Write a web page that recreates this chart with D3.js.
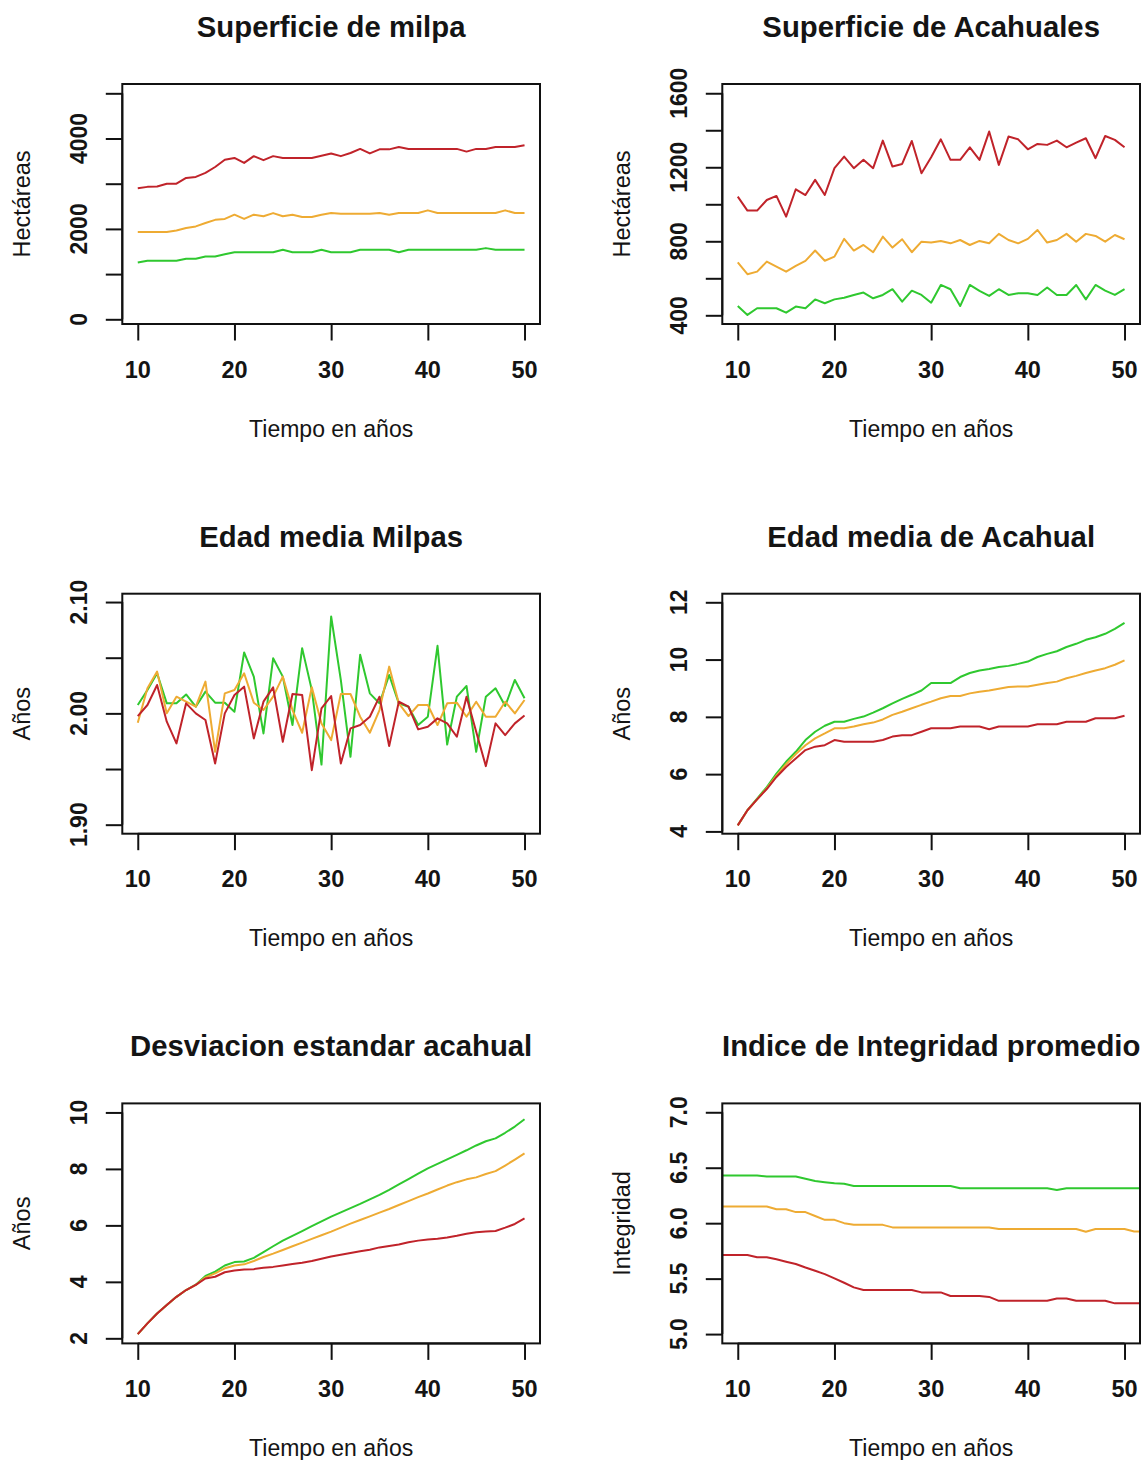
<!DOCTYPE html>
<html>
<head>
<meta charset="utf-8">
<script src="https://cdn.jsdelivr.net/npm/d3@7"></script>
<style>
  body { margin: 0; background: #fff; }
  svg { display: block; }
  text { font-family: "Liberation Sans", Arial, Helvetica, sans-serif; fill: #141414; }
</style>
</head>
<body>
<svg id="chart" width="1143" height="1460"></svg>
<script>
// ---- data: simulated landscape indicators, years 10..50 ----
const years = [10,11,12,13,14,15,16,17,18,19,20,21,22,23,24,25,26,27,28,29,30,
               31,32,33,34,35,36,37,38,39,40,41,42,43,44,45,46,47,48,49,50];
// integrity index series run a little beyond the visible window (clipped)
const yearsWide = [8,9].concat(years, [51,52]);

const xTicks = [10,20,30,40,50];

// Superficie de milpa (ha)
const milpaRed = [2900,2930,2940,3000,3000,3128,3150,3240,3370,3530,3570,3460,3610,3520,3610,3570,3570,3570,3570,3620,3670,
                  3610,3680,3770,3670,3760,3760,3810,3770,3770,3770,3770,3770,3770,3710,3770,3770,3810,3810,3810,3850];
const milpaOrange = [1930,1930,1930,1930,1965,2020,2055,2130,2200,2220,2315,2220,2315,2280,2350,2280,2315,2265,2265,2315,2350,
                     2335,2335,2335,2335,2350,2315,2350,2350,2350,2410,2350,2350,2350,2350,2350,2350,2350,2410,2350,2350];
const milpaGreen = [1255,1295,1295,1295,1295,1340,1340,1390,1390,1440,1485,1485,1485,1485,1485,1540,1485,1485,1485,1540,1485,
                    1485,1485,1540,1540,1540,1540,1485,1540,1540,1540,1540,1540,1540,1540,1540,1575,1540,1540,1540,1540];

// Superficie de Acahuales (ha)
const acahRed = [1041,966,966,1023,1045,933,1081,1050,1132,1050,1195,1258,1195,1240,1195,1344,1204,1218,1342,1168,1254,
                 1351,1240,1240,1308,1240,1393,1213,1366,1351,1297,1326,1321,1344,1308,1333,1357,1249,1369,1348,1308];
const acahOrange = [686,622,636,690,663,636,667,694,750,695,717,813,750,780,741,825,766,811,741,798,793,
                    802,789,807,780,802,789,840,807,789,813,861,793,807,840,798,840,829,798,834,811];
const acahGreen = [450,402,438,438,438,414,447,438,486,465,486,495,510,523,492,510,541,474,533,510,468,
                   564,541,450,564,532,505,541,510,519,519,510,550,510,510,564,486,564,533,510,541];

// Edad media Milpas (años)
const edadMilRed = [1.9976,2.0075,2.0255,1.9925,1.973,2.009,2.000,1.994,1.955,2.000,2.0165,2.024,1.9775,2.0105,2.0234,1.9745,2.0174,2.0165,1.949,2.0045,2.0156,
                    1.955,1.9865,1.9895,1.997,2.015,1.9706,2.0105,2.006,1.9856,1.988,1.9955,1.991,1.979,2.015,1.9835,1.9526,1.991,1.9805,1.991,1.998];
const edadMilOrange = [1.9916,2.0225,2.0375,2.000,2.015,2.0105,2.006,2.0285,1.9655,2.018,2.021,2.036,2.0096,2.003,2.015,2.033,2.003,1.9826,2.0234,1.991,1.976,
                       2.0174,2.0174,1.997,1.9826,2.003,2.042,2.009,1.9976,2.0075,2.0075,1.9895,2.009,2.0096,1.997,2.0105,1.997,1.997,2.0105,2.000,2.012];
const edadMilGreen = [2.0075,2.021,2.036,2.009,2.009,2.017,2.006,2.0195,2.0096,2.0096,2.0015,2.0547,2.033,1.982,2.0495,2.033,1.9895,2.0586,2.021,1.954,2.087,
                      2.030,1.961,2.0526,2.018,2.009,2.0345,2.009,2.006,1.9895,1.997,2.0607,1.972,2.015,2.0246,1.9655,2.015,2.0225,2.0066,2.030,2.0135];

// Edad media de Acahual (años)
const edadAcRed = [4.21,4.74,5.12,5.48,5.90,6.25,6.55,6.84,6.96,7.01,7.19,7.13,7.13,7.13,7.13,7.19,7.31,7.36,7.36,7.48,7.60,
                   7.60,7.60,7.66,7.66,7.66,7.57,7.66,7.66,7.66,7.66,7.74,7.74,7.74,7.83,7.83,7.83,7.95,7.95,7.95,8.04];
const edadAcOrange = [4.21,4.74,5.12,5.50,5.95,6.35,6.70,7.01,7.25,7.42,7.60,7.60,7.66,7.74,7.80,7.91,8.07,8.18,8.30,8.42,8.53,
                      8.65,8.73,8.73,8.82,8.88,8.92,8.98,9.04,9.06,9.06,9.12,9.18,9.23,9.35,9.43,9.53,9.62,9.70,9.82,9.97];
const edadAcGreen = [4.21,4.74,5.14,5.55,6.02,6.43,6.78,7.19,7.48,7.69,7.83,7.83,7.93,8.01,8.15,8.30,8.47,8.63,8.77,8.92,9.18,
                     9.18,9.18,9.39,9.53,9.62,9.67,9.74,9.78,9.85,9.93,10.09,10.20,10.29,10.44,10.55,10.69,10.78,10.90,11.07,11.28];

// Desviacion estandar acahual (años)
const desvRed = [2.15,2.53,2.88,3.18,3.47,3.71,3.89,4.12,4.18,4.34,4.40,4.44,4.45,4.50,4.53,4.58,4.63,4.68,4.74,4.82,4.90,
                 4.96,5.02,5.08,5.14,5.22,5.27,5.32,5.40,5.46,5.50,5.53,5.57,5.63,5.70,5.76,5.78,5.80,5.92,6.05,6.25];
const desvOrange = [2.15,2.53,2.88,3.18,3.47,3.71,3.89,4.16,4.30,4.48,4.58,4.62,4.74,4.88,5.00,5.13,5.26,5.39,5.52,5.65,5.78,
                    5.92,6.06,6.19,6.32,6.45,6.58,6.72,6.86,7.00,7.13,7.27,7.41,7.53,7.63,7.70,7.82,7.92,8.12,8.33,8.55];
const desvGreen = [2.15,2.53,2.88,3.18,3.47,3.71,3.90,4.21,4.36,4.58,4.70,4.72,4.85,5.05,5.26,5.46,5.63,5.80,5.97,6.14,6.31,
                   6.46,6.61,6.76,6.92,7.08,7.26,7.45,7.64,7.83,8.02,8.18,8.34,8.50,8.66,8.83,8.98,9.08,9.28,9.50,9.76];

// Indice de Integridad promedio (years 8..52)
const integRed = [5.713,5.713,5.713,5.713,5.692,5.692,5.674,5.653,5.632,5.600,5.571,5.541,5.502,5.463,5.421,
                  5.397,5.397,5.397,5.397,5.397,5.397,5.376,5.376,5.376,5.343,5.343,5.343,5.343,5.335,
                  5.300,5.300,5.300,5.300,5.300,5.300,5.320,5.320,5.300,5.300,5.300,5.300,5.277,5.277,5.277,5.277];
const integOrange = [6.150,6.150,6.150,6.150,6.150,6.150,6.125,6.125,6.100,6.100,6.065,6.030,6.030,6.000,
                     5.985,5.985,5.985,5.985,5.962,5.962,5.962,5.962,5.962,5.962,5.962,5.962,5.962,5.962,5.962,
                     5.947,5.947,5.947,5.947,5.947,5.947,5.947,5.947,5.947,5.923,5.947,5.947,5.947,5.947,5.925,5.925];
const integGreen = [6.430,6.430,6.430,6.430,6.430,6.420,6.420,6.420,6.420,6.400,6.380,6.370,6.360,6.355,
                    6.335,6.335,6.335,6.335,6.335,6.335,6.335,6.335,6.335,6.335,6.335,
                    6.315,6.315,6.315,6.315,6.315,6.315,6.315,6.315,6.315,6.315,6.300,
                    6.315,6.315,6.315,6.315,6.315,6.315,6.315,6.315,6.315];

// ---- panel definitions ----
const colors = { green: "#2fc82f", orange: "#eeab33", red: "#c0232a" };

const panels = [
  { title: "Superficie de milpa", ylab: "Hectáreas", x: years,
    yDomain: [-104, 5206], yTicks: [0,1000,2000,3000,4000,5000], yLabels: [0,2000,4000], fmt: d3.format("d"),
    series: [[milpaGreen, "green"], [milpaOrange, "orange"], [milpaRed, "red"]] },
  { title: "Superficie de Acahuales", ylab: "Hectáreas", x: years,
    yDomain: [353, 1650], yTicks: [400,600,800,1000,1200,1400,1600], yLabels: [400,800,1200,1600], fmt: d3.format("d"),
    series: [[acahGreen, "green"], [acahOrange, "orange"], [acahRed, "red"]] },
  { title: "Edad media Milpas", ylab: "Años", x: years,
    yDomain: [1.8919, 2.1075], yTicks: [1.90,1.95,2.00,2.05,2.10], yLabels: [1.90,2.00,2.10], fmt: d3.format(".2f"),
    series: [[edadMilGreen, "green"], [edadMilOrange, "orange"], [edadMilRed, "red"]] },
  { title: "Edad media de Acahual", ylab: "Años", x: years,
    yDomain: [3.92, 12.30], yTicks: [4,6,8,10,12], yLabels: [4,6,8,10,12], fmt: d3.format("d"),
    series: [[edadAcGreen, "green"], [edadAcOrange, "orange"], [edadAcRed, "red"]] },
  { title: "Desviacion estandar acahual", ylab: "Años", x: years,
    yDomain: [1.82, 10.32], yTicks: [2,4,6,8,10], yLabels: [2,4,6,8,10], fmt: d3.format("d"),
    series: [[desvGreen, "green"], [desvOrange, "orange"], [desvRed, "red"]] },
  { title: "Indice de Integridad promedio", ylab: "Integridad", x: yearsWide,
    yDomain: [4.916, 7.08], yTicks: [5.0,5.5,6.0,6.5,7.0], yLabels: [5.0,5.5,6.0,6.5,7.0], fmt: d3.format(".1f"),
    series: [[integGreen, "green"], [integOrange, "orange"], [integRed, "red"]] }
];

// ---- layout ----
const svg = d3.select("#chart");
const colOffset = [0, 600];
const boxLeft = 122.3, boxW = 417.7, boxH = 240;
const rowTop = r => 84 + r * 509.7;
const tickLen = 16.5;

panels.forEach((p, i) => {
  const col = i % 2, row = Math.floor(i / 2);
  const left = colOffset[col] + boxLeft, top = rowTop(row);
  const g = svg.append("g").attr("transform", `translate(${left},${top})`);

  const x = d3.scaleLinear().domain([8.4, 51.6]).range([0, boxW]);
  const y = d3.scaleLinear().domain(p.yDomain).range([boxH, 0]);

  const clipId = "clip" + i;
  g.append("clipPath").attr("id", clipId)
    .append("rect").attr("x", 0).attr("y", 0).attr("width", boxW).attr("height", boxH);

  // series lines
  const line = d3.line().x((d, k) => x(p.x[k])).y(d => y(d));
  const lines = g.append("g").attr("clip-path", `url(#${clipId})`);
  p.series.forEach(([vals, c]) => {
    lines.append("path").datum(vals)
      .attr("d", line)
      .attr("fill", "none")
      .attr("stroke", colors[c])
      .attr("stroke-width", 2)
      .attr("stroke-linejoin", "round");
  });

  // x axis
  const xAxis = d3.axisBottom(x).tickValues(xTicks).tickSize(tickLen).tickSizeOuter(0).tickFormat("");
  const gx = g.append("g").attr("transform", `translate(0,${boxH})`).call(xAxis);
  gx.select(".domain").attr("d", `M${x(xTicks[0])},0H${x(xTicks[xTicks.length - 1])}`)
    .attr("stroke", "#111").attr("stroke-width", 2);
  gx.selectAll(".tick line").attr("stroke", "#111").attr("stroke-width", 2);
  g.append("g").selectAll("text").data(xTicks).join("text")
    .attr("x", d => x(d)).attr("y", boxH + 53.5)
    .attr("text-anchor", "middle")
    .style("font-size", "23.5px").style("font-weight", "bold")
    .text(d => d);

  // y axis
  const yAxis = d3.axisLeft(y).tickValues(p.yTicks).tickSize(tickLen).tickSizeOuter(0).tickFormat("");
  const gy = g.append("g").call(yAxis);
  gy.select(".domain").attr("d", `M0,${y(p.yTicks[0])}V${y(p.yTicks[p.yTicks.length - 1])}`)
    .attr("stroke", "#111").attr("stroke-width", 2);
  gy.selectAll(".tick line").attr("stroke", "#111").attr("stroke-width", 2);
  g.append("g").selectAll("text").data(p.yLabels).join("text")
    .attr("transform", d => `translate(${-35.3},${y(d)}) rotate(-90)`)
    .attr("text-anchor", "middle")
    .style("font-size", "23px").style("font-weight", "bold")
    .text(d => p.fmt(d));

  // frame
  g.append("rect").attr("x", 0).attr("y", 0).attr("width", boxW).attr("height", boxH)
    .attr("fill", "none").attr("stroke", "#111").attr("stroke-width", 2);

  // titles
  g.append("text").attr("x", boxW / 2).attr("y", -47)
    .attr("text-anchor", "middle")
    .style("font-size", "29.3px").style("font-weight", "bold")
    .text(p.title);
  g.append("text").attr("x", boxW / 2).attr("y", boxH + 112.7)
    .attr("text-anchor", "middle")
    .style("font-size", "23px")
    .text("Tiempo en años");
  g.append("text")
    .attr("transform", `translate(${-92.3},${boxH / 2}) rotate(-90)`)
    .attr("text-anchor", "middle")
    .style("font-size", "23.5px")
    .text(p.ylab);
});
</script>
</body>
</html>
